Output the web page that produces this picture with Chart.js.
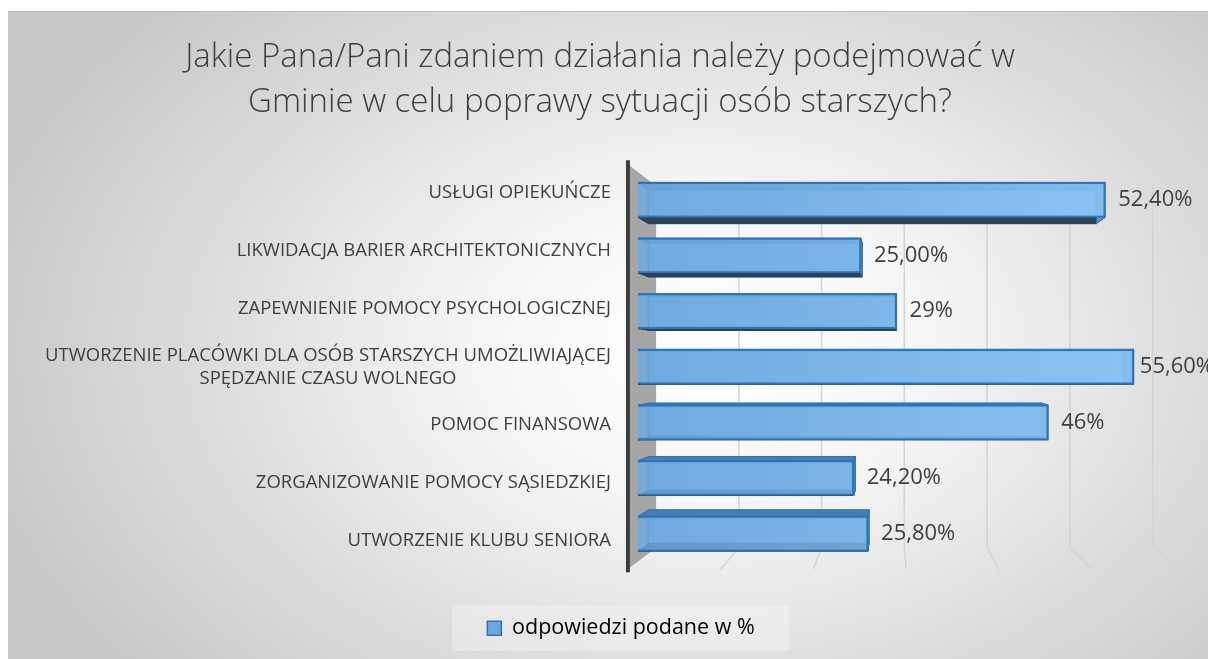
<!DOCTYPE html>
<html lang="pl">
<head>
<meta charset="utf-8">
<title>Działania na rzecz osób starszych</title>
<script src="https://cdn.jsdelivr.net/npm/chart.js@4.4.1/dist/chart.umd.min.js"></script>
<style>
  html, body { margin: 0; padding: 0; background: #fff; }
  body { width: 1208px; height: 659px; position: relative; overflow: hidden; }
  #frame {
    position: absolute; left: 8px; top: 11px; right: 0; bottom: 0;
    border-top: 1px solid #bdbdbd;
    background: radial-gradient(ellipse 62% 78% at 58% 52%, #ffffff 0%, #f6f6f6 30%, #dedede 65%, #c8c8c8 100%);
  }
  #wrap { position: absolute; left: 0; top: 0; width: 1208px; height: 659px; }
</style>
</head>
<body>
<div id="frame"></div>
<div id="wrap"><canvas id="chart"></canvas></div>
<script>
/* wykres słupkowy 3D w stylu Excela – Chart.js + mała wtyczka perspektywy */
const INK = '#404040', GRID = '#d4d4d4', EDGE = '#2e75b6';
const FONT = '"Open Sans", Lato, sans-serif';

const TITLE = ['Jakie Pana/Pani zdaniem działania należy podejmować w',
               'Gminie w celu poprawy sytuacji osób starszych?'];
const CATEGORIES = [
  ['USŁUGI OPIEKUŃCZE'],
  ['LIKWIDACJA BARIER ARCHITEKTONICZNYCH'],
  ['ZAPEWNIENIE POMOCY PSYCHOLOGICZNEJ'],
  ['UTWORZENIE PLACÓWKI DLA OSÓB STARSZYCH UMOŻLIWIAJĄCEJ', 'SPĘDZANIE CZASU WOLNEGO'],
  ['POMOC FINANSOWA'],
  ['ZORGANIZOWANIE POMOCY SĄSIEDZKIEJ'],
  ['UTWORZENIE KLUBU SENIORA']
];
const VALUES = [52.4, 25.0, 29, 55.6, 46, 24.2, 25.8];
const VALUE_LABELS = ['52,40%', '25,00%', '29%', '55,60%', '46%', '24,20%', '25,80%'];
const SERIES_NAME = 'odpowiedzi podane w %';
const X_MIN = 0, X_MAX = 60, X_STEP = 10;

// głębokości w perspektywie (1 = płaszczyzna słupków)
const S_FRONT = 1.04, S_BAR_BACK = 0.959, S_WALL = 0.928, S_LABEL = 1.045;

function vp(a) {
  return { x: a.left + 0.47 * (a.right - a.left), y: (a.top + a.bottom) / 2 };
}
function proj(v, px, py, s) {
  return [v.x + s * (px - v.x), v.y + s * (py - v.y)];
}
function poly(ctx, pts, fill, stroke, lw) {
  ctx.beginPath();
  pts.forEach((p, i) => i ? ctx.lineTo(p[0], p[1]) : ctx.moveTo(p[0], p[1]));
  ctx.closePath();
  if (fill) { ctx.fillStyle = fill; ctx.fill(); }
  if (stroke) { ctx.strokeStyle = stroke; ctx.lineWidth = lw || 1; ctx.stroke(); }
}

const scene3d = {
  id: 'scene3d',
  beforeDraw(chart) {
    const c = chart.ctx;
    c.save();
    // tytuł (wyśrodkowany na ramce wykresu)
    c.font = '300 33px ' + FONT; c.fillStyle = INK;
    c.textAlign = 'center'; c.textBaseline = 'middle';
    TITLE.forEach((t, i) => c.fillText(t, chart.width / 2 - 4, 58 + i * 45));
    // lekko jaśniejsze tło legendy
    const lg = chart.legend;
    if (lg && lg.legendHitBoxes && lg.legendHitBoxes.length) {
      const h = lg.legendHitBoxes[0];
      c.fillStyle = 'rgba(255,255,255,0.28)';
      c.fillRect(h.left - 35, h.top - 12, h.width + 70, h.height + 24);
    }
    c.restore();
  },
  beforeDatasetsDraw(chart) {
    const { ctx, chartArea: a, scales: { x } } = chart;
    const v = vp(a);
    ctx.save();
    // ściana boczna przy osi
    poly(ctx, [proj(v, a.left, a.top, S_FRONT), proj(v, a.left, a.top, S_WALL),
               proj(v, a.left, a.bottom, S_WALL), proj(v, a.left, a.bottom, S_FRONT)], '#a6a6a6');
    // linie siatki: tylna ściana + podłoga
    ctx.strokeStyle = GRID; ctx.lineWidth = 1.5;
    x.ticks.forEach(t => {
      if (t.value <= X_MIN) return;
      const px = x.getPixelForValue(t.value);
      const p0 = proj(v, px, a.top, S_WALL), p1 = proj(v, px, a.bottom, S_WALL), p2 = proj(v, px, a.bottom, S_FRONT);
      ctx.beginPath(); ctx.moveTo(p0[0], p0[1]); ctx.lineTo(p1[0], p1[1]); ctx.lineTo(p2[0], p2[1]); ctx.stroke();
    });
    // oś pionowa
    const t0 = proj(v, a.left, a.top, S_FRONT), b0 = proj(v, a.left, a.bottom, S_FRONT);
    ctx.strokeStyle = '#3c3c3c'; ctx.lineWidth = 4;
    ctx.beginPath(); ctx.moveTo(t0[0], t0[1] - 4); ctx.lineTo(b0[0], b0[1] + 3); ctx.stroke();

    // tył i boki prostopadłościanów
    chart.getDatasetMeta(0).data.forEach(el => {
      const { x: xe, y, base, height } = el.getProps(['x', 'y', 'base', 'height'], true);
      const y0 = y - height / 2, y1 = y + height / 2;
      const F = { tl: [base, y0], tr: [xe, y0], br: [xe, y1], bl: [base, y1] };
      const B = {};
      for (const k in F) B[k] = proj(v, F[k][0], F[k][1], S_BAR_BACK);
      poly(ctx, [B.tl, B.tr, B.br, B.bl], '#70a6dc', EDGE, 1.5);
      poly(ctx, [F.tl, F.tr, B.tr, B.tl], '#4c7db2', EDGE, 1);
      poly(ctx, [F.bl, F.br, B.br, B.bl], '#2f4358', '#2a3b4e', 1);
      poly(ctx, [F.tr, F.br, B.br, B.tr], '#5b8fc5', EDGE, 1);
    });
    ctx.restore();
  },
  afterDatasetsDraw(chart) {
    const { ctx, chartArea: a, scales: { y } } = chart;
    const v = vp(a);
    ctx.save();
    // etykiety wartości
    ctx.font = '22px ' + FONT; ctx.fillStyle = INK;
    ctx.textAlign = 'left'; ctx.textBaseline = 'middle';
    chart.getDatasetMeta(0).data.forEach((el, i) => {
      const { x: xe, y: yc } = el.getProps(['x', 'y'], true);
      const w = ctx.measureText(VALUE_LABELS[i]).width;
      const tx = Math.min(xe + 13, chart.width - w + 6);
      ctx.fillText(VALUE_LABELS[i], tx, yc);
    });
    // etykiety kategorii (na przedniej płaszczyźnie)
    ctx.font = '18.5px ' + FONT;
    const right = proj(v, a.left, 0, S_FRONT)[0] - 17;
    CATEGORIES.forEach((lines, i) => {
      const cy = proj(v, 0, y.getPixelForValue(i), S_LABEL)[1];
      const wmax = Math.max(...lines.map(l => ctx.measureText(l).width));
      const lh = 23, top = cy - (lines.length - 1) * lh / 2;
      ctx.textAlign = lines.length > 1 ? 'center' : 'right';
      lines.forEach((l, j) => {
        ctx.fillText(l, lines.length > 1 ? right - wmax / 2 : right, top + j * lh);
      });
    });
    ctx.restore();
  }
};

new Chart('chart', {
  type: 'bar',
  data: {
    labels: CATEGORIES,
    datasets: [{
      label: SERIES_NAME,
      data: VALUES,
      backgroundColor: c => {
        const a = c.chart.chartArea;
        if (!a) return 'rgba(111,166,220,0.8)';
        const g = c.chart.ctx.createLinearGradient(a.left, 0, a.right, 0);
        g.addColorStop(0, 'rgba(112,170,224,0.82)');
        g.addColorStop(1, 'rgba(148,204,248,0.82)');
        return g;
      },
      borderColor: EDGE, borderWidth: 2,
      barThickness: 35
    }]
  },
  options: {
    indexAxis: 'y',
    responsive: true, maintainAspectRatio: false, animation: false,
    layout: { padding: { left: 69, right: 35, top: 172, bottom: 10 } },
    plugins: {
      title: { display: false },
      legend: {
        position: 'bottom',
        labels: {
          color: INK, font: { family: FONT, size: 21.5 }, boxWidth: 14, boxHeight: 14, padding: 10,
          generateLabels: () => [{ text: SERIES_NAME, fillStyle: '#6fa6dc', strokeStyle: EDGE, lineWidth: 1.5, datasetIndex: 0 }]
        }
      },
      tooltip: { enabled: false }
    },
    scales: {
      x: {
        min: X_MIN, max: X_MAX, ticks: { display: false, stepSize: X_STEP },
        grid: { display: false }, border: { display: false },
        afterFit: s => { s.height = 46; }
      },
      y: {
        ticks: { display: false }, grid: { display: false }, border: { display: false },
        afterFit: s => { s.width = 569; }
      }
    }
  },
  plugins: [scene3d]
});
</script>
</body>
</html>
